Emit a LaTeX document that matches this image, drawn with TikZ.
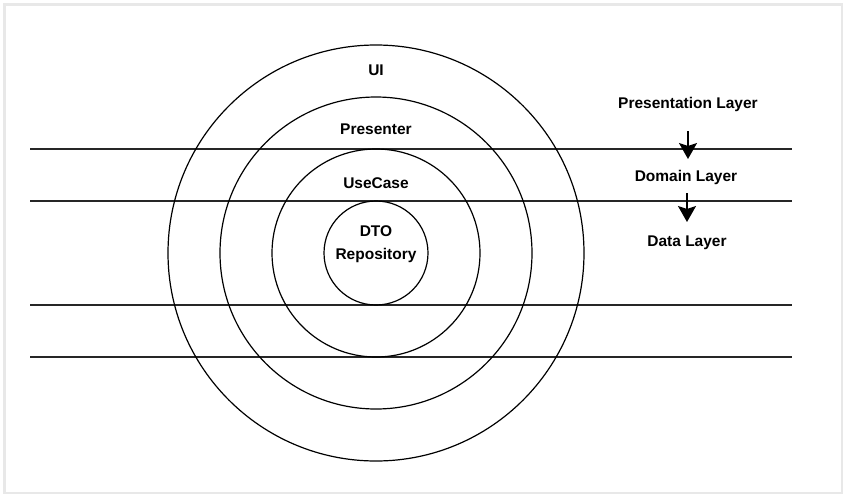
\documentclass[tikz,border=0pt]{standalone}
\usepackage{fontspec}
\setmainfont{Liberation Sans}
\usetikzlibrary{arrows.meta}
\definecolor{framegray}{HTML}{E8E8E8}
\tikzset{
  layerline/.style={line width=2.4pt,black!85},
  ring/.style={line width=1.2pt},
  lbl/.style={font=\fontsize{15.5}{18}\selectfont\bfseries,inner sep=0pt},
  flow/.style={line width=1.8pt,-{Stealth[length=16pt,width=18pt,inset=3pt]}}
}
\begin{document}
\begin{tikzpicture}[x=1pt,y=-1pt]
	  \useasboundingbox (0,0) rectangle (846,496);
	  \draw[framegray,line width=2.5pt] (4.5,4.5) rectangle (842,493);
	  % layer lines
	  \draw[layerline] (30,149) -- (792,149);
	  \draw[layerline] (30,201) -- (792,201);
	  \draw[layerline] (30,305) -- (792,305);
	  \draw[layerline] (30,357) -- (792,357);
	  % rings
	  \draw[ring] (376,253) circle (208);
	  \draw[ring] (376,253) circle (156);
	  \draw[ring] (376,253) circle (104);
	  \draw[ring] (376,253) circle (52);
	  \node[lbl] (ui) at (376,70) {UI};
	  \node[lbl] (presenter) at (376,129) {Presenter};
	  \node[lbl] (usecase) at (376,183) {UseCase};
	  \node[lbl] (dto) at (376,231) {DTO};
	  \node[lbl] (repo) at (376,255) {Repository};
	  % layers
	  \node[lbl] (pres) at (688,104) {Presentation Layer};
	  \node[lbl] (dom) at (686,177) {Domain Layer};
	  \node[lbl] (data) at (687,243) {Data Layer};
	  \coordinate (a1) at (688,131);
	  \coordinate (b1) at (688,159);
	  \coordinate (a2) at (687,193);
	  \coordinate (b2) at (687,222);
	  \draw[flow] (a1) -- (b1);
	  \draw[flow] (a2) -- (b2);
	\end{tikzpicture}
\end{document}
